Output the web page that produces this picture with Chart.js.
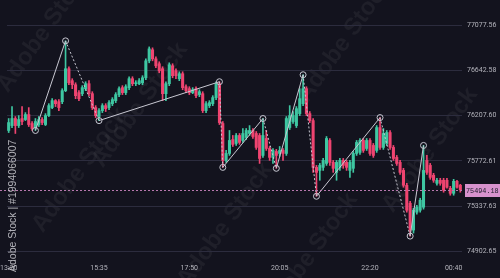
<!DOCTYPE html>
<html>
<head>
<meta charset="utf-8">
<script src="https://cdn.jsdelivr.net/npm/chart.js@4.4.0/dist/chart.umd.min.js"></script>
<style>
  html, body { margin: 0; padding: 0; background: #13131e; }
  #wrap { width: 500px; height: 278px; }
</style>
</head>
<body>
<div id="wrap"><canvas id="chart" width="500" height="278"></canvas></div>
<script>
// 5 minute candles
const candleOpen = [
  76065, 76112, 76180, 76112, 76180, 76170, 76218, 76132, 76093, 76122,
  76170, 76122, 76208, 76285, 76352, 76342, 76342, 76448, 76659, 76544,
  76505, 76429, 76419, 76467, 76515, 76419, 76285, 76199, 76256, 76304,
  76285, 76323, 76352, 76410, 76477, 76429, 76477, 76563, 76515, 76515,
  76524, 76572, 76735, 76841, 76754, 76707, 76659, 76419, 76515, 76687,
  76639, 76563, 76611, 76486, 76467, 76429, 76467, 76410, 76419, 76256,
  76304, 76323, 76381, 76515, 76132, 75777, 75844, 75978, 75940, 76017,
  75969, 75998, 76036, 76065, 76036, 76017, 75825, 75988, 75892, 75806,
  75863, 75844, 75873, 75844, 76093, 76151, 76112, 76227, 76323, 76467,
  76227, 76160, 75710, 75681, 75710, 75748, 75969, 75758, 75662, 75710,
  75777, 75758, 75681, 75701, 75844, 75854, 75969, 75892, 75969, 75921,
  75873, 76093, 75902, 75940, 76045, 75902, 75806, 75758, 75681, 75538,
  75365, 75107, 75279, 75298, 75327, 75777, 75729, 75634, 75557, 75586,
  75586, 75586, 75509, 75461, 75576, 75538
];
const candleHigh = [
  76180, 76295, 76199, 76208, 76295, 76237, 76285, 76151, 76180, 76199,
  76189, 76227, 76323, 76371, 76362, 76362, 76467, 76927, 76678, 76563,
  76524, 76448, 76496, 76534, 76544, 76438, 76304, 76275, 76323, 76323,
  76352, 76381, 76429, 76486, 76496, 76505, 76582, 76582, 76544, 76563,
  76592, 76754, 76869, 76860, 76774, 76726, 76678, 76534, 76716, 76707,
  76659, 76630, 76630, 76505, 76486, 76477, 76486, 76457, 76438, 76342,
  76352, 76400, 76534, 76534, 76151, 75873, 76065, 76017, 76036, 76036,
  76084, 76084, 76112, 76084, 76055, 76036, 76180, 76065, 75911, 75892,
  75883, 75911, 75892, 76199, 76304, 76247, 76295, 76467, 76601, 76486,
  76247, 76180, 75729, 75748, 75796, 76007, 75988, 75777, 75777, 75796,
  75796, 75777, 75777, 75863, 75969, 75988, 75988, 75988, 75988, 75940,
  76112, 76189, 76084, 76065, 76065, 75921, 75825, 75777, 75701, 75557,
  75384, 75317, 75346, 75413, 75921, 75825, 75748, 75653, 75605, 75605,
  75605, 75605, 75528, 75595, 75586, 75547
];
const candleLow = [
  76045, 76093, 76036, 76093, 76122, 76160, 76103, 76065, 76065, 76103,
  76122, 76112, 76199, 76275, 76295, 76256, 76323, 76438, 76505, 76467,
  76371, 76352, 76400, 76448, 76400, 76266, 76189, 76160, 76237, 76247,
  76266, 76304, 76333, 76390, 76410, 76410, 76457, 76496, 76496, 76505,
  76505, 76553, 76716, 76735, 76668, 76620, 76352, 76352, 76496, 76572,
  76563, 76544, 76457, 76429, 76410, 76419, 76381, 76390, 76237, 76237,
  76285, 76304, 76362, 76122, 75710, 75758, 75825, 75911, 75921, 75931,
  75950, 75978, 76017, 75988, 75883, 75748, 75806, 75873, 75777, 75748,
  75701, 75816, 75777, 75825, 76074, 76132, 76093, 76208, 76304, 76208,
  76141, 75662, 75432, 75586, 75681, 75729, 75729, 75662, 75586, 75681,
  75701, 75681, 75614, 75662, 75825, 75835, 75854, 75873, 75825, 75806,
  75854, 75883, 75883, 75921, 75883, 75777, 75729, 75643, 75519, 75279,
  75049, 75078, 75260, 75279, 75308, 75643, 75595, 75566, 75538, 75538,
  75471, 75509, 75442, 75442, 75509, 75471
];
const candleClose = [
  76141, 76180, 76112, 76170, 76151, 76218, 76122, 76084, 76151, 76170,
  76141, 76208, 76304, 76352, 76323, 76285, 76448, 76659, 76524, 76505,
  76400, 76371, 76477, 76515, 76419, 76285, 76208, 76256, 76304, 76275,
  76333, 76362, 76410, 76467, 76429, 76486, 76563, 76515, 76524, 76544,
  76572, 76735, 76850, 76754, 76687, 76639, 76419, 76515, 76697, 76592,
  76592, 76611, 76477, 76448, 76429, 76457, 76400, 76438, 76256, 76323,
  76333, 76381, 76515, 76141, 75777, 75844, 75969, 75931, 76017, 75950,
  76036, 76065, 76065, 76007, 75902, 75796, 76017, 75892, 75806, 75873,
  75825, 75873, 75844, 76180, 76208, 76208, 76275, 76371, 76467, 76227,
  76160, 75710, 75662, 75729, 75777, 75988, 75758, 75701, 75758, 75777,
  75729, 75710, 75758, 75844, 75950, 75969, 75873, 75969, 75844, 75825,
  76093, 75902, 76036, 76045, 75902, 75796, 75748, 75662, 75538, 75298,
  75107, 75298, 75327, 75394, 75681, 75662, 75614, 75586, 75586, 75557,
  75490, 75519, 75461, 75576, 75519, 75494.18
];

// zigzag turning points: candle index and price
const pivotIndex = [8, 17, 27, 63, 64, 76, 80, 88, 92, 111, 120, 124];
const pivotPrice = [76065, 76927, 76160, 76534, 75710, 76180, 75701, 76601, 75432, 76189, 75049, 75921];

const tickIndex = [0, 27, 54, 81, 108, 133];
const tickLabels = ['13:20', '15:35', '17:50', '20:05', '22:20', '00:40'];
const priceTicks = [77077.56, 76642.58, 76207.60, 75772.61, 75337.63, 74902.65];

const UP = '#3ec7a2';
const DOWN = '#ef4470';

const labels = candleClose.map((_, i) => String(i));
const colors = candleClose.map((c, i) => c >= candleOpen[i] ? UP : DOWN);
const lastPrice = candleClose[candleClose.length - 1];

const zigzag = labels.map(() => null);
pivotIndex.forEach((idx, k) => { zigzag[idx] = pivotPrice[k]; });

// down legs of the zigzag are dashed
function legIsDown(dataIndex) {
  for (let k = 0; k < pivotIndex.length - 1; k++) {
    if (dataIndex > pivotIndex[k] && dataIndex <= pivotIndex[k + 1]) {
      return pivotPrice[k + 1] < pivotPrice[k];
    }
  }
  return false;
}

const chartBg = {
  id: 'chartBg',
  beforeDraw(chart) {
    const ctx = chart.ctx;
    ctx.save();
    ctx.fillStyle = '#13131e';
    ctx.fillRect(0, 0, chart.width, chart.height);
    // faint diagonal stock watermark
    ctx.fillStyle = 'rgba(255,255,255,0.05)';
    ctx.font = 'bold 24px "Liberation Sans"';
    ctx.textAlign = 'center';
    ctx.textBaseline = 'middle';
    [[45, 30], [140, 105], [225, 225], [345, 40], [430, 150], [310, 255], [80, 170]].forEach(([x, y]) => {
      ctx.save();
      ctx.translate(x, y);
      ctx.rotate(-0.95);
      ctx.fillText('Adobe Stock', 0, 0);
      ctx.restore();
    });
    ctx.restore();
  }
};

const priceLine = {
  id: 'priceLine',
  afterDatasetsDraw(chart) {
    const { ctx, chartArea } = chart;
    const y = Math.round(chart.scales.y.getPixelForValue(lastPrice)) + 0.5;
    ctx.save();
    ctx.strokeStyle = '#b878ae';
    ctx.lineWidth = 1;
    ctx.setLineDash([2, 2]);
    ctx.beginPath();
    ctx.moveTo(0, y);
    ctx.lineTo(chartArea.right, y);
    ctx.stroke();
    ctx.setLineDash([]);
    ctx.fillStyle = '#d792cd';
    ctx.fillRect(chartArea.right + 3, y - 6.5, 37, 13);
    ctx.fillStyle = '#1b1b28';
    ctx.font = '6.8px "Liberation Mono"';
    ctx.textBaseline = 'middle';
    ctx.fillText(lastPrice.toFixed(2), chartArea.right + 4, y + 0.5);
    ctx.restore();
  }
};

const stamp = {
  id: 'stamp',
  afterDraw(chart) {
    const ctx = chart.ctx;
    ctx.save();
    ctx.translate(13, 272);
    ctx.rotate(-Math.PI / 2);
    ctx.fillStyle = 'rgba(205,205,210,0.85)';
    ctx.font = '10.5px "Liberation Sans"';
    ctx.textBaseline = 'middle';
    ctx.fillText('Adobe Stock | #1994066007', 0, 0);
    ctx.restore();
  }
};

new Chart(document.getElementById('chart'), {
  type: 'bar',
  data: {
    labels,
    datasets: [
      {
        type: 'line',
        data: zigzag,
        spanGaps: true,
        borderColor: '#c8c8d2',
        borderWidth: 1,
        pointRadius: 3,
        pointBorderWidth: 1,
        pointBorderColor: '#c8c8d2',
        pointBackgroundColor: 'rgba(0,0,0,0)',
        segment: {
          borderDash: ctx => legIsDown(ctx.p1DataIndex) ? [2, 2] : []
        },
        order: 0
      },
      {
        data: candleOpen.map((o, i) => [o, candleClose[i]]),
        backgroundColor: colors,
        barThickness: 2.4,
        grouped: false,
        order: 1
      },
      {
        data: candleLow.map((l, i) => [l, candleHigh[i]]),
        backgroundColor: colors,
        barThickness: 1,
        grouped: false,
        order: 2
      }
    ]
  },
  options: {
    responsive: false,
    animation: false,
    events: [],
    layout: { padding: { left: 7, top: 0, right: 0, bottom: 0 } },
    plugins: { legend: { display: false }, tooltip: { enabled: false } },
    scales: {
      x: {
        grid: { display: false },
        border: { display: false },
        ticks: {
          autoSkip: false,
          maxRotation: 0,
          color: '#b4b4bc',
          font: { family: 'Roboto', size: 7 },
          padding: 4,
          callback: (v, i) => {
            const k = tickIndex.indexOf(i);
            return k >= 0 ? tickLabels[k] : '';
          }
        },
        afterFit: s => { s.height = 26; s.paddingLeft = 0; s.paddingRight = 0; }
      },
      y: {
        position: 'right',
        min: 74896,
        max: 77272,
        grid: { color: '#2c2c3e', drawTicks: false },
        border: { display: false },
        afterBuildTicks: s => { s.ticks = priceTicks.map(v => ({ value: v })); },
        ticks: {
          color: '#b4b4bc',
          font: { family: 'Roboto', size: 7 },
          padding: 5,
          callback: v => v.toFixed(2)
        },
        afterFit: s => { s.width = 38; s.paddingTop = 0; s.paddingBottom = 0; }
      }
    }
  },
  plugins: [chartBg, priceLine, stamp]
});
</script>
</body>
</html>
